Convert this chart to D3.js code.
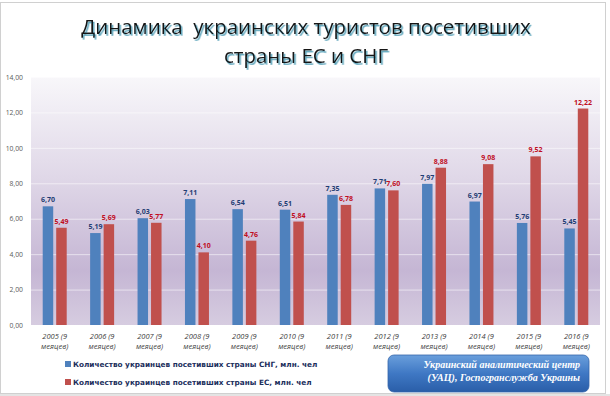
<!DOCTYPE html>
<html lang="ru">
<head>
<meta charset="utf-8">
<title>Динамика украинских туристов</title>
<script src="https://cdn.jsdelivr.net/npm/d3@7"></script>
<style>
  body { margin: 0; background: #fff; }
  svg { display: block; }
  .title { white-space: pre; }
</style>
</head>
<body>
<script>
// data
var years = ["2005", "2006", "2007", "2008", "2009", "2010", "2011", "2012", "2013", "2014", "2015", "2016"];
var cisValues = [6.70, 5.19, 6.03, 7.11, 6.54, 6.51, 7.35, 7.71, 7.97, 6.97, 5.76, 5.45];
var euValues = [5.49, 5.69, 5.77, 4.10, 4.76, 5.84, 6.78, 7.60, 8.88, 9.08, 9.52, 12.22];
var yTicks = [0, 2, 4, 6, 8, 10, 12, 14];
var seriesNames = ["Количество украинцев посетивших страны СНГ, млн. чел",
                   "Количество украинцев посетивших страны ЕС, млн. чел"];
var titleLines = ["Динамика  украинских туристов посетивших", "страны ЕС и СНГ"];
var sourceLines = ["Украинский аналитический центр", "(УАЦ), Госпогранслужба Украины"];

var w = 610, h = 396;
var plot = { left: 31, right: 600, top: 77, bottom: 325 };
var colors = ["#4f81bd", "#c0504d"];
var labelColors = ["#1f3d73", "#c00e1f"];

var ru = d3.formatLocale({ decimal: ",", thousands: " ", grouping: [3], currency: ["", ""] });
var fmt = ru.format(".2f");

var svg = d3.select("body").append("svg")
  .attr("width", w)
  .attr("height", h);

var defs = svg.append("defs");

// plot background gradient
var bg = defs.append("linearGradient")
  .attr("id", "bg")
  .attr("x1", 0).attr("y1", 0).attr("x2", 0).attr("y2", 1);
bg.append("stop").attr("offset", "0%").attr("stop-color", "#f8f7fa");
bg.append("stop").attr("offset", "40%").attr("stop-color", "#e0d8e8");
bg.append("stop").attr("offset", "78%").attr("stop-color", "#c5b6d4");
bg.append("stop").attr("offset", "100%").attr("stop-color", "#d6cce0");

// source box gradient
var box = defs.append("linearGradient")
  .attr("id", "box")
  .attr("x1", 0).attr("y1", 0).attr("x2", 0).attr("y2", 1);
box.append("stop").attr("offset", "0%").attr("stop-color", "#6a9fdc");
box.append("stop").attr("offset", "50%").attr("stop-color", "#3f78c4");
box.append("stop").attr("offset", "100%").attr("stop-color", "#2a5ea8");

var shadow = defs.append("filter").attr("id", "shadow")
  .attr("x", "-5%").attr("y", "-20%").attr("width", "110%").attr("height", "150%");
shadow.append("feDropShadow")
  .attr("dx", 1.5).attr("dy", 1.8)
  .attr("stdDeviation", 0.7)
  .attr("flood-color", "#3e93ad")
  .attr("flood-opacity", 0.85);

// outer frame
svg.append("rect")
  .attr("x", 0.5).attr("y", 2.5)
  .attr("width", 605).attr("height", 391)
  .attr("fill", "#fff")
  .attr("stroke", "#d0d0d0");
svg.append("rect")
  .attr("x", 0).attr("y", 394)
  .attr("width", w).attr("height", 2)
  .attr("fill", "#e4e4e4");

// title
svg.append("g")
  .attr("filter", "url(#shadow)")
  .selectAll("text")
  .data(titleLines)
  .enter()
  .append("text")
  .attr("class", "title")
  .attr("x", 306)
  .attr("y", (d, i) => 34 + i * 29)
  .attr("text-anchor", "middle")
  .attr("font-family", "'Open Sans', sans-serif")
  .attr("font-size", 20.5)
  .attr("fill", "#151515")
  .text(d => d);

// scales
var x0 = d3.scaleBand()
  .domain(years)
  .range([plot.left, plot.right])
  .paddingInner(0.494)
  .paddingOuter(0.247);

var x1 = d3.scaleBand()
  .domain([0, 1])
  .range([0, x0.bandwidth()])
  .paddingInner(0.222);

var y = d3.scaleLinear()
  .domain([0, 14])
  .range([plot.bottom, plot.top]);

svg.append("rect")
  .attr("x", plot.left).attr("y", plot.top)
  .attr("width", plot.right - plot.left)
  .attr("height", plot.bottom - plot.top)
  .attr("fill", "url(#bg)");

// y axis
var yAxis = svg.append("g")
  .attr("transform", "translate(" + plot.left + ",0)")
  .call(d3.axisLeft(y).tickValues(yTicks).tickFormat(fmt).tickSize(-(plot.right - plot.left)).tickPadding(8));
yAxis.select(".domain").remove();
yAxis.selectAll(".tick line")
  .attr("stroke", "#ffffff")
  .attr("stroke-opacity", 0.55);
yAxis.selectAll(".tick text")
  .attr("font-family", "'Open Sans', sans-serif")
  .attr("font-size", 6.8)
  .attr("fill", "#595959");

// bars
var groups = svg.selectAll("g.year")
  .data(years)
  .enter()
  .append("g")
  .attr("class", "year")
  .attr("transform", d => "translate(" + x0(d) + ",0)");

var rows = years.map((yr, i) => [cisValues[i], euValues[i]]);

groups.selectAll("rect")
  .data((d, i) => rows[i])
  .enter()
  .append("rect")
  .attr("x", (d, j) => x1(j))
  .attr("y", d => y(d))
  .attr("width", x1.bandwidth())
  .attr("height", d => y(0) - y(d))
  .attr("fill", (d, j) => colors[j]);

groups.selectAll("text.val")
  .data((d, i) => rows[i])
  .enter()
  .append("text")
  .attr("class", "val")
  .attr("x", (d, j) => x1(j) + x1.bandwidth() / 2)
  .attr("y", d => y(d) - 4)
  .attr("text-anchor", "middle")
  .attr("font-family", "'Open Sans', sans-serif")
  .attr("font-weight", "bold")
  .attr("font-size", 7)
  .attr("fill", (d, j) => labelColors[j])
  .text(d => fmt(d));

// x labels
var xl = svg.selectAll("text.xl")
  .data(years)
  .enter()
  .append("text")
  .attr("class", "xl")
  .attr("text-anchor", "middle")
  .attr("font-family", "'Open Sans', sans-serif")
  .attr("font-style", "italic")
  .attr("font-size", 7.5)
  .attr("fill", "#404040");
xl.append("tspan")
  .attr("x", d => x0(d) + x0.bandwidth() / 2)
  .attr("y", 339)
  .text(d => d + " (9");
xl.append("tspan")
  .attr("x", d => x0(d) + x0.bandwidth() / 2)
  .attr("y", 349)
  .text("меяцев)");

// legend
var legend = svg.selectAll("g.legend")
  .data(seriesNames)
  .enter()
  .append("g")
  .attr("class", "legend")
  .attr("transform", (d, i) => "translate(65," + (364 + i * 18) + ")");
legend.append("rect")
  .attr("x", 0).attr("y", -3)
  .attr("width", 6).attr("height", 6)
  .attr("fill", (d, i) => colors[i]);
legend.append("text")
  .attr("x", 8)
  .attr("y", 2.6)
  .attr("font-family", "'DejaVu Sans', sans-serif")
  .attr("font-weight", "bold")
  .attr("font-size", 7.3)
  .attr("fill", "#1b2e5c")
  .text(d => d);

// source box
svg.append("rect")
  .attr("x", 388).attr("y", 355)
  .attr("width", 201).attr("height", 37)
  .attr("rx", 6)
  .attr("fill", "url(#box)")
  .attr("stroke", "#3566aa")
  .attr("stroke-width", 0.8);
svg.selectAll("text.src")
  .data(sourceLines)
  .enter()
  .append("text")
  .attr("class", "src")
  .attr("x", 580)
  .attr("y", (d, i) => 368 + i * 13)
  .attr("text-anchor", "end")
  .attr("font-family", "'Liberation Serif', serif")
  .attr("font-style", "italic")
  .attr("font-weight", "bold")
  .attr("font-size", 10)
  .attr("fill", "#ffffff")
  .text(d => d);
</script>
</body>
</html>
